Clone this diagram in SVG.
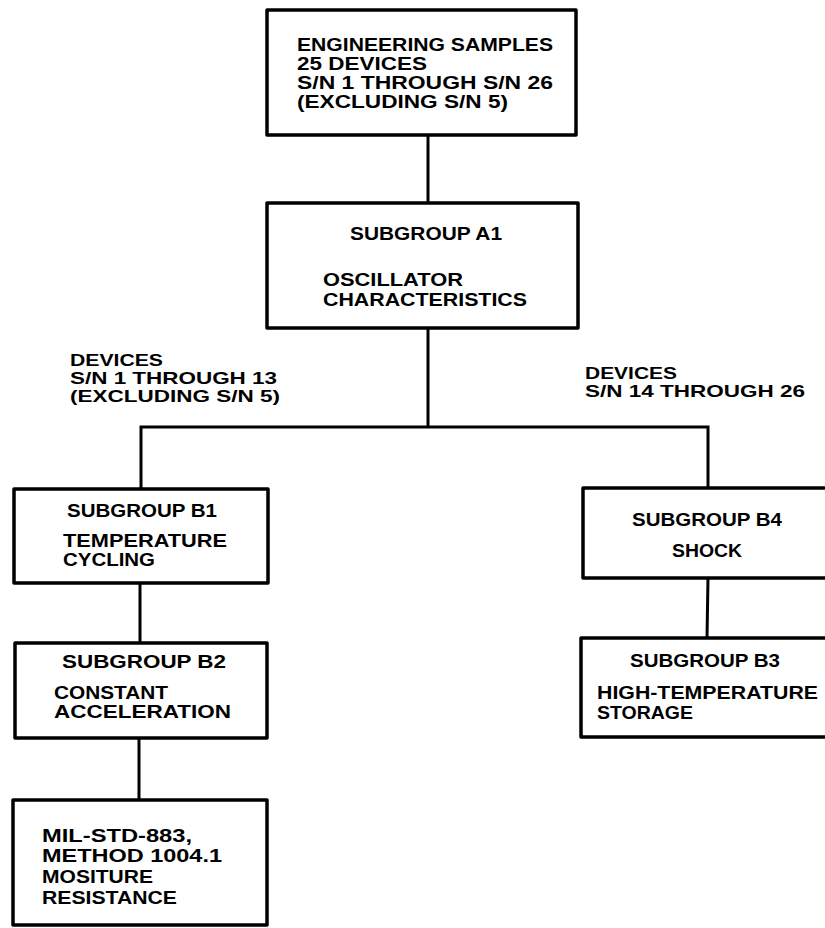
<svg xmlns="http://www.w3.org/2000/svg" width="825" height="928" viewBox="0 0 825 928">
<style>
.box{fill:#fff;stroke:#000;stroke-width:3.5;stroke-linejoin:round}
.con{fill:none;stroke:#000;stroke-width:3}
text{font-family:"Liberation Sans",Arial,sans-serif;font-weight:bold;font-size:19px;fill:#000}
.lbl{font-size:17px}
</style>
<rect width="825" height="928" fill="#fff"/>
<g id="connectors">
<line class="con" x1="428" y1="135" x2="428" y2="203"/>
<line class="con" x1="428" y1="328" x2="428" y2="427"/>
<polyline class="con" points="141,489 141,427 708,427 708,488"/>
<line class="con" x1="140" y1="583" x2="140" y2="643"/>
<line class="con" x1="139" y1="738" x2="139" y2="800"/>
<line class="con" x1="708" y1="578" x2="707" y2="638"/>
</g>
<g id="labels">
<text class="lbl" x="70" y="366" textLength="93" lengthAdjust="spacingAndGlyphs">DEVICES</text>
<text class="lbl" x="70" y="384" textLength="207" lengthAdjust="spacingAndGlyphs">S/N 1 THROUGH 13</text>
<text class="lbl" x="70" y="402" textLength="210" lengthAdjust="spacingAndGlyphs">(EXCLUDING S/N 5)</text>
<text class="lbl" x="585" y="379" textLength="92" lengthAdjust="spacingAndGlyphs">DEVICES</text>
<text class="lbl" x="585" y="397" textLength="220" lengthAdjust="spacingAndGlyphs">S/N 14 THROUGH 26</text>
</g>
<g id="engineering-samples">
<rect class="box" x="267" y="10" width="309" height="125"/>
<text x="297" y="51" textLength="256" lengthAdjust="spacingAndGlyphs">ENGINEERING SAMPLES</text>
<text x="297" y="70" textLength="130" lengthAdjust="spacingAndGlyphs">25 DEVICES</text>
<text x="297" y="89" textLength="256" lengthAdjust="spacingAndGlyphs">S/N 1 THROUGH S/N 26</text>
<text x="297" y="108" textLength="211" lengthAdjust="spacingAndGlyphs">(EXCLUDING S/N 5)</text>
</g>
<g id="subgroup-a1">
<rect class="box" x="267" y="203" width="311" height="125"/>
<text x="350" y="240" textLength="152" lengthAdjust="spacingAndGlyphs">SUBGROUP A1</text>
<text x="323" y="286" textLength="140" lengthAdjust="spacingAndGlyphs">OSCILLATOR</text>
<text x="323" y="306" textLength="204" lengthAdjust="spacingAndGlyphs">CHARACTERISTICS</text>
</g>
<g id="subgroup-b1">
<rect class="box" x="14" y="489" width="254" height="94"/>
<text x="67" y="517" textLength="150" lengthAdjust="spacingAndGlyphs">SUBGROUP B1</text>
<text x="63" y="547" textLength="164" lengthAdjust="spacingAndGlyphs">TEMPERATURE</text>
<text x="63" y="566" textLength="92" lengthAdjust="spacingAndGlyphs">CYCLING</text>
</g>
<g id="subgroup-b2">
<rect class="box" x="15" y="643" width="252" height="95"/>
<text x="62" y="668" textLength="164" lengthAdjust="spacingAndGlyphs">SUBGROUP B2</text>
<text x="54" y="699" textLength="114" lengthAdjust="spacingAndGlyphs">CONSTANT</text>
<text x="54" y="718" textLength="177" lengthAdjust="spacingAndGlyphs">ACCELERATION</text>
</g>
<g id="moisture-resistance">
<rect class="box" x="13" y="800" width="254" height="125"/>
<text x="42" y="842" textLength="150" lengthAdjust="spacingAndGlyphs">MIL-STD-883,</text>
<text x="42" y="862" textLength="180" lengthAdjust="spacingAndGlyphs">METHOD 1004.1</text>
<text x="42" y="883" textLength="111" lengthAdjust="spacingAndGlyphs">MOSITURE</text>
<text x="42" y="904" textLength="135" lengthAdjust="spacingAndGlyphs">RESISTANCE</text>
</g>
<g id="subgroup-b4">
<rect class="box" x="583" y="488" width="250" height="90"/>
<text x="632" y="526" textLength="150" lengthAdjust="spacingAndGlyphs">SUBGROUP B4</text>
<text x="672" y="557" textLength="70" lengthAdjust="spacingAndGlyphs">SHOCK</text>
</g>
<g id="subgroup-b3">
<rect class="box" x="581" y="638" width="252" height="99"/>
<text x="630" y="667" textLength="150" lengthAdjust="spacingAndGlyphs">SUBGROUP B3</text>
<text x="597" y="699" textLength="221" lengthAdjust="spacingAndGlyphs">HIGH-TEMPERATURE</text>
<text x="597" y="719" textLength="96" lengthAdjust="spacingAndGlyphs">STORAGE</text>
</g>
</svg>
